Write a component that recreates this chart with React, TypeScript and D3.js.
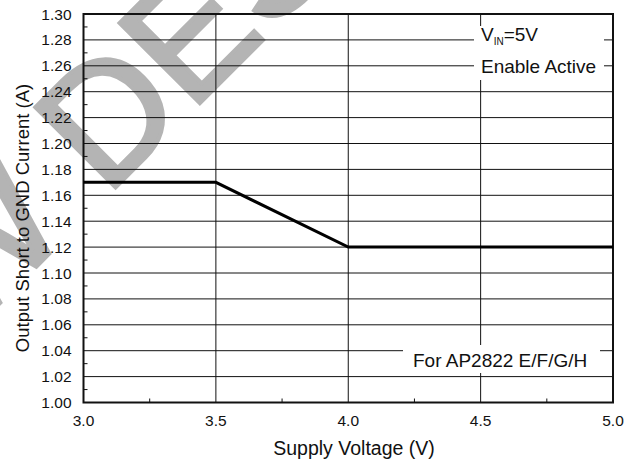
import * as d3 from "d3";
import React, { useEffect, useRef } from "react";

// supply voltage (V) vs short-circuit current (A)
const voltage = [3.0, 3.5, 4.0, 5.0];
const current = [1.17, 1.17, 1.12, 1.12];

const xTicks = [3.0, 3.5, 4.0, 4.5, 5.0];
const yTicks = d3.range(0, 16).map((i) => +(1.0 + i * 0.02).toFixed(2));
const xMinor = [3.25, 3.75, 4.25, 4.75];
const yMinor = d3.range(0, 15).map((i) => +(1.01 + i * 0.02).toFixed(2));

const W = 637;
const H = 462;
const margin = { left: 83.5, right: 24, top: 14, bottom: 59.5 };
const FONT = "'Liberation Sans', Arial, sans-serif";

const App: React.FC = () => {
  const svgRef = useRef<SVGSVGElement>(null);

  useEffect(() => {
    const svg = d3.select(svgRef.current);
    svg.selectAll("*").remove();

    const x = d3
      .scaleLinear()
      .domain([3.0, 5.0])
      .range([margin.left, W - margin.right]);
    const y = d3
      .scaleLinear()
      .domain([1.0, 1.3])
      .range([H - margin.bottom, margin.top]);

    // watermark behind everything
    const wm = svg
      .append("g")
      .attr("transform", "translate(106,197) rotate(-45)")
      .attr("fill", "#b4b4b4")
      .attr("stroke", "#b4b4b4")
      .attr("stroke-width", 4)
      .style("font-family", FONT)
      .style("font-size", "165px");
    wm.append("text").attr("x", -46).attr("text-anchor", "end").text("NEW");
    wm.append("text").attr("x", 0).text("DESIGN");

    // grid
    const grid = svg.append("g").attr("stroke", "#111").attr("stroke-width", 1);
    grid
      .selectAll("line.h")
      .data(yTicks.slice(1, -1))
      .join("line")
      .attr("class", "h")
      .attr("x1", x(3.0))
      .attr("x2", x(5.0))
      .attr("y1", (d) => y(d))
      .attr("y2", (d) => y(d));
    grid
      .selectAll("line.v")
      .data(xTicks.slice(1, -1))
      .join("line")
      .attr("class", "v")
      .attr("x1", (d) => x(d))
      .attr("x2", (d) => x(d))
      .attr("y1", y(1.0))
      .attr("y2", y(1.3));

    // minor ticks
    svg
      .append("g")
      .attr("stroke", "#111")
      .selectAll("line")
      .data(yMinor)
      .join("line")
      .attr("x1", x(3.0))
      .attr("x2", x(3.0) + 4)
      .attr("y1", (d) => y(d))
      .attr("y2", (d) => y(d));
    svg
      .append("g")
      .attr("stroke", "#111")
      .selectAll("line")
      .data(xMinor)
      .join("line")
      .attr("x1", (d) => x(d))
      .attr("x2", (d) => x(d))
      .attr("y1", y(1.0))
      .attr("y2", y(1.0) - 4);

    // annotation boxes
    svg
      .append("rect")
      .attr("x", 474)
      .attr("y", 26)
      .attr("width", 130)
      .attr("height", 54)
      .attr("fill", "#fff");
    svg
      .append("rect")
      .attr("x", 403)
      .attr("y", 345)
      .attr("width", 197)
      .attr("height", 28)
      .attr("fill", "#fff");

    // frame
    svg
      .append("rect")
      .attr("x", x(3.0))
      .attr("y", y(1.3))
      .attr("width", x(5.0) - x(3.0))
      .attr("height", y(1.0) - y(1.3))
      .attr("fill", "none")
      .attr("stroke", "#111")
      .attr("stroke-width", 2);

    // data line
    const line = d3
      .line<number>()
      .x((d) => x(d))
      .y((_, i) => y(current[i]));
    svg
      .append("path")
      .datum(voltage)
      .attr("d", line)
      .attr("fill", "none")
      .attr("stroke", "#000")
      .attr("stroke-width", 3);

    // tick labels
    const labels = svg
      .append("g")
      .style("font-family", FONT)
      .style("font-size", "15.5px")
      .attr("fill", "#111");
    labels
      .selectAll("text.y")
      .data(yTicks)
      .join("text")
      .attr("class", "y")
      .attr("x", 71.5)
      .attr("y", (d) => y(d) + 5.5)
      .attr("text-anchor", "end")
      .text((d) => d3.format(".2f")(d));
    labels
      .selectAll("text.x")
      .data(xTicks)
      .join("text")
      .attr("class", "x")
      .attr("x", (d) => x(d))
      .attr("y", 426)
      .attr("text-anchor", "middle")
      .text((d) => d3.format(".1f")(d));

    // axis titles
    svg
      .append("text")
      .attr("x", 354)
      .attr("y", 455)
      .attr("text-anchor", "middle")
      .style("font-family", FONT)
      .style("font-size", "19.5px")
      .attr("fill", "#111")
      .text("Supply Voltage (V)");
    svg
      .append("text")
      .attr("transform", "translate(29,218) rotate(-90)")
      .attr("text-anchor", "middle")
      .style("font-family", FONT)
      .style("font-size", "18.5px")
      .attr("fill", "#111")
      .text("Output Short to GND Current (A)");

    // annotations
    const note = svg
      .append("g")
      .style("font-family", FONT)
      .style("font-size", "19px")
      .attr("fill", "#111");
    const vin = note.append("text").attr("x", 481).attr("y", 41);
    vin.append("tspan").text("V");
    vin.append("tspan").attr("dy", 4).style("font-size", "10px").text("IN");
    vin.append("tspan").attr("dy", -4).text("=5V");
    note.append("text").attr("x", 481).attr("y", 73).text("Enable Active");
    note.append("text").attr("x", 413).attr("y", 367).text("For AP2822 E/F/G/H");
  }, []);

  return (
    <svg
      ref={svgRef}
      width={W}
      height={H}
      style={{ position: "absolute", left: 0, top: 0, background: "#fff" }}
    />
  );
};

export default App;
